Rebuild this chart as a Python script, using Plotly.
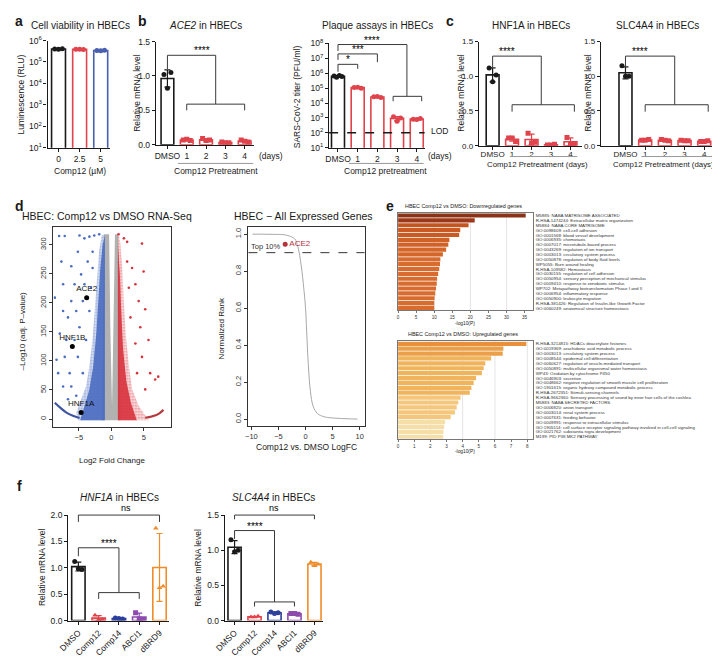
import numpy as np
import plotly.graph_objects as go

# the page puts the plot 8 px in from the top-left corner, so the figure is drawn a bit smaller
OX, OY = 8, 8
FW, FH = 712, 650
FONT = "Liberation Sans"
INK = "#1a1a1a"
BRK = "#3a3a3a"
RED = "#e0434b"
BLUE = "#4a5fae"
NAVY = "#2c3f9c"
PURPLE = "#8e4bae"
ORANGE = "#f08c2a"

# ---------------- data ----------------
# a: cell viability
via_doses = ["0", "2.5", "5"]
via_rlu = [[4.0e5, 4.1e5, 3.9e5], [3.9e5, 3.8e5, 3.95e5], [3.4e5, 3.5e5, 3.3e5]]

# b: ACE2 expression and plaque assay
day_labels = ["DMSO", "1", "2", "3", "4"]
ace2_rel = [[1.02, 1.05, 0.82], [0.07, 0.06, 0.08], [0.09, 0.07, 0.06],
            [0.04, 0.03, 0.03], [0.07, 0.04, 0.05]]
plaque_pfu = [[6.5e5, 5.5e5, 7.0e5, 6.0e5], [1.1e5, 1.0e5, 1.15e5], [2.6e4, 2.4e4, 2.7e4],
              [1.2e3, 1.0e3, 6.0e2], [8.0e2, 9.0e2, 7.8e2]]
lod_pfu = 100

# c: HNF1A / SLC4A4 after Comp12 pretreatment
hnf1a_rel = [[1.12, 1.02, 0.92], [0.11, 0.06, 0.11], [0.18, 0.05, 0.04],
             [0.01, 0.02, 0.01], [0.12, 0.03, 0.02]]
slc4a4_rel = [[1.15, 1.00, 1.00], [0.08, 0.09, 0.08], [0.09, 0.07, 0.08],
              [0.08, 0.07, 0.07], [0.06, 0.07, 0.06]]

# d: volcano (dense clouds as outlines, sparse genes as points)
grey_cloud_x = [-1.1, -0.35, -0.15, 0.1, 0.3, 0.55, 1.05, 1.4, 1.1, -1.1, -1.5]
grey_cloud_y = [318, 318, 150, 22, 150, 318, 318, -2, -2, -2, -2]
blue_outer_x = [-1.0, -1.5, -1.9, -2.3, -2.6, -2.9, -3.4, -3.9, -4.65, -5.4, -5.1, -1.0]
blue_outer_y = [318, 316, 288, 232, 175, 136, 90, 56, 34, 11, -2, -2]
blue_inner_x = [-1.0, -1.35, -1.7, -2.0, -2.3, -2.8, -3.4, -4.2, -4.8, -1.0]
blue_inner_y = [316, 300, 260, 205, 150, 90, 50, 20, -2, -2]
red_outer_x = [1.0, 1.16, 1.4, 1.67, 1.9, 2.2, 2.7, 3.2, 4.2, 5.7, 1.0]
red_outer_y = [318, 316, 300, 260, 203, 147, 90, 51, 22.6, -2, -2]
red_inner_x = [1.0, 1.3, 1.5, 1.8, 2.3, 3.0, 3.9, 1.0]
red_inner_y = [300, 250, 190, 120, 65, 28, -2, -2]
blue_arc_x = [-8.7, -7.9, -6.9, -5.9, -4.9]
blue_arc_y = [28, 20, 11, 5.6, 1.7]
red_arc_x = [5.2, 6.2, 7.2, 8.0]
red_arc_y = [2.3, 4.5, 8.5, 15.8]
blue_pts_x = [-8.03, -7.17, -4.9, -4.14, -3.38, -2.63, -1.87, -7.68, -6.16, -8.69, -7.42, -6.67,
              -5.4, -4.9, -7.93, -8.43, -7.17, -6.41, -8.18, -5.66, -4.65, -3.64, -2.88, -4.39,
              -5.66, -6.92, -3.89, -5.15, -6.16, -7.42, -4.39, -3.13, -2.88, -6.16, -4.14, -5.15,
              -3.38, -7.42, -6.67, -5.4]
blue_pts_y = [315, 315, 316, 311, 314, 316, 318, 271, 263, 209, 186, 175,
              186, 158, 147, 102, 107, 79, 79, 232, 249, 271, 288, 203,
              136, 136, 136, 107, 56, 56, 79, 226, 260, 203, 232, 288,
              186, 232, 34, 40]
red_pts_x = [1.1, 1.92, 2.42, 4.7, 3.18, 4.19, 5.2, 4.44, 3.69, 5.7, 5.96, 6.72, 4.7, 3.69,
             2.93, 5.2, 3.94, 2.68, 2.42, 7.2, 4.95]
red_pts_y = [318, 311, 305, 302, 260, 203, 189, 158, 232, 136, 79, 68, 107, 130,
             175, 51, 79, 226, 271, 73, 254]
marked_genes = ["ACE2", "HNF1B", "HNF1A"]
marked_lfc = [-3.8, -6.0, -4.65]
marked_p = [209, 125, 11.3]

# d: rank plot
rank_lfc = [-9.8, -8, -6, -4, -3, -2, -1.4, -0.8, -0.3, 0.0, 0.2, 0.5, 0.9, 1.4, 2.2, 3.5, 6, 9.6]
rank_norm = [1.0, 1.0, 0.999, 0.997, 0.99, 0.975, 0.93, 0.83, 0.7, 0.6, 0.48, 0.3, 0.15,
             0.07, 0.03, 0.012, 0.004, 0.0]
ace2_rank = (-3.76, 0.945)
top_cut = 0.9

# e: enrichment
down_terms = [
    "M5885: NABA MATRISOME ASSOCIATED",
    "R-HSA-1474244: Extracellular matrix organization",
    "M5884: NABA CORE MATRISOME",
    "GO:0098609: cell-cell adhesion",
    "GO:0001568: blood vessel development",
    "GO:0006935: chemotaxis",
    "GO:0007017: microtubule-based process",
    "GO:0043269: regulation of ion transport",
    "GO:0003013: circulatory system process",
    "GO:0050878: regulation of body fluid levels",
    "WP5055: Burn wound healing",
    "R-HSA-109582: Hemostasis",
    "GO:0030155: regulation of cell adhesion",
    "GO:0050954: sensory perception of mechanical stimulus",
    "GO:0009410: response to xenobiotic stimulus",
    "WP702: Metapathway biotransformation Phase I and II",
    "GO:0006954: inflammatory response",
    "GO:0050900: leukocyte migration",
    "R-HSA-381426: Regulation of Insulin-like Growth Factor",
    "GO:0060249: anatomical structure homeostasis",
]
down_logp = [35.3, 21.2, 19.5, 17.2, 16.9, 14.2, 13.9, 13.3, 12.4, 11.7,
             11.6, 11.4, 11.1, 10.8, 10.7, 10.5, 10.3, 10.1, 10.0, 10.0]
up_terms = [
    "R-HSA-3214815: HDACs deacetylate histones",
    "GO:0019369: arachidonic acid metabolic process",
    "GO:0003013: circulatory system process",
    "GO:0008544: epidermal cell differentiation",
    "GO:0060627: regulation of vesicle-mediated transport",
    "GO:0050891: multicellular organismal water homeostasis",
    "WP43: Oxidation by cytochrome P450",
    "GO:0046903: secretion",
    "GO:0048662: negative regulation of smooth muscle cell proliferation",
    "GO:1901615: organic hydroxy compound metabolic process",
    "R-HSA-2672351: Stimuli-sensing channels",
    "R-HSA-9662360: Sensory processing of sound by inner hair cells of the cochlea",
    "M5883: NABA SECRETED FACTORS",
    "GO:0006820: anion transport",
    "GO:0003014: renal system process",
    "GO:0007631: feeding behavior",
    "GO:0009991: response to extracellular stimulus",
    "GO:1905114: cell surface receptor signaling pathway involved in cell-cell signaling",
    "GO:0021762: substantia nigra development",
    "M199: PID P38 MK2 PATHWAY",
]
up_logp = [7.94, 6.52, 6.48, 5.76, 5.4, 5.3, 5.19, 4.83, 4.68, 4.54,
           4.44, 3.87, 3.73, 3.63, 3.52, 3.26, 2.91, 2.85, 2.81, 2.79]
down_colors = ["#8a3317", "#9c3819", "#c4551f", "#c95a22", "#c95a22", "#d06228", "#d06228",
               "#d4662a", "#d4662a"] + ["#d86c2f"] * 11
up_colors = ["#e8913a", "#eb9f48", "#eb9f48"] + ["#f0b45c"] * 8 + ["#f4c77c"] * 5 + ["#f6dea8"] * 4

# f: inhibitors
f_groups = ["DMSO", "Comp12", "Comp14", "ABCI1", "dBRD9"]
f_hnf1a_rel = [[1.12, 0.97, 0.98], [0.10, 0.02, 0.02], [0.05, 0.03, 0.04],
               [0.15, 0.02, 0.03], [1.75, 0.65, 0.62]]
f_slc4a4_rel = [[1.15, 1.00, 0.98], [0.05, 0.06, 0.05], [0.12, 0.11, 0.10],
                [0.10, 0.09, 0.10], [0.83, 0.80, 0.78]]

# ---------------- layout helpers ----------------
fig = go.Figure()
PANELS = {}
shapes, annotations = [], []


def fx(px):
    return (px - OX) / FW


def fy(py):
    return 1 - (py - OY) / FH


def panel(name, xpx, ypx, xr, yr, log=False):
    k = len(PANELS) + 1
    PANELS[name] = dict(k=k, xpx=xpx, ypx=ypx, xr=xr, yr=yr, log=log,
                        xa="x" if k == 1 else f"x{k}", ya="y" if k == 1 else f"y{k}")
    return PANELS[name]


def to_px(name, x, y):
    p = PANELS[name]
    a, b = p["xpx"]
    xp = a + (x - p["xr"][0]) / (p["xr"][1] - p["xr"][0]) * (b - a)
    yv = np.log10(y) if p["log"] else y
    top, bot = p["ypx"]
    yp = bot - (yv - p["yr"][0]) / (p["yr"][1] - p["yr"][0]) * (bot - top)
    return xp, yp


def to_paper(name, x, y):
    xp, yp = to_px(name, x, y)
    return fx(xp), fy(yp)


def text(x, y, s, size=9, color=INK, xanchor="center", yanchor="middle", angle=0):
    annotations.append(dict(x=fx(x), y=fy(y), xref="paper", yref="paper", text=s,
                            showarrow=False, font=dict(family=FONT, size=size, color=color),
                            xanchor=xanchor, yanchor=yanchor, textangle=angle))


def bracket(name, x0, x1, y, yl, yr, label=None, size=10):
    pts = [to_paper(name, x0, yl), to_paper(name, x0, y), to_paper(name, x1, y), to_paper(name, x1, yr)]
    path = "M " + " L ".join(f"{a:.5f},{b:.5f}" for a, b in pts)
    shapes.append(dict(type="path", xref="paper", yref="paper", path=path,
                       line=dict(color=BRK, width=1)))
    if label:
        mx = (pts[1][0] + pts[2][0]) / 2
        annotations.append(dict(x=mx, y=pts[1][1], xref="paper", yref="paper", text=label,
                                showarrow=False, yanchor="bottom", yshift=-3 if "*" in label else 0,
                                font=dict(family=FONT, size=size, color="#000000")))


def underline(name, x0, x1, ypx):
    a = fx(to_px(name, x0, 1)[0])
    b = fx(to_px(name, x1, 1)[0])
    shapes.append(dict(type="line", xref="paper", yref="paper", x0=a, x1=b,
                       y0=fy(ypx), y1=fy(ypx), line=dict(color="#999999", width=1)))


def gp_axes(p, cats, yticks, yticktext=None, angle=0, fmt=".1f", fs=8.5, standoff=0):
    k = p["k"]
    xs = "xaxis" if k == 1 else f"xaxis{k}"
    ys = "yaxis" if k == 1 else f"yaxis{k}"
    common = dict(showline=True, linecolor=INK, linewidth=1.2, ticks="outside", ticklen=3,
                  tickwidth=1.2, tickcolor=INK, showgrid=False, zeroline=False,
                  tickfont=dict(family=FONT, size=fs, color=INK))
    ya = dict(domain=[fy(p["ypx"][1]), fy(p["ypx"][0])], range=p["yr"], anchor=p["xa"],
              tickvals=yticks, **common)
    if p["log"]:
        ya.update(type="log", ticktext=yticktext)
    else:
        ya.update(tickformat=fmt)
    fig.update_layout(**{
        xs: dict(domain=[fx(p["xpx"][0]), fx(p["xpx"][1])], range=p["xr"], anchor=p["ya"],
                 tickvals=list(range(len(cats))), ticktext=cats, tickangle=angle,
                 ticklabelstandoff=standoff, **common),
        ys: ya,
    })


def bars(name, groups, colors, symbols, width=0.66):
    p = PANELS[name]
    jit = {3: [-0.18, 0.18, 0.0], 4: [-0.2, -0.07, 0.07, 0.2]}
    for i, vals in enumerate(groups):
        v = np.array(vals, float)
        c = colors[i]
        fig.add_trace(go.Bar(x=[i], y=[v.mean()], width=width, xaxis=p["xa"], yaxis=p["ya"],
                             marker=dict(color="white", line=dict(color=c, width=1.6)),
                             error_y=dict(type="data", array=[v.std(ddof=1)], color=c,
                                          thickness=1.2, width=3),
                             hoverinfo="skip"))
        fig.add_trace(go.Scatter(x=[i + o for o in jit[len(v)]], y=v, mode="markers",
                                 xaxis=p["xa"], yaxis=p["ya"], hoverinfo="skip",
                                 marker=dict(color=c, size=5, symbol=symbols[i])))


def r_axes(p, xticks, yticks, yfmt):
    k = p["k"]
    common = dict(showline=True, mirror=True, linecolor="#333333", linewidth=1, ticks="outside",
                  ticklen=3, tickcolor="#333333", showgrid=False, zeroline=False,
                  tickfont=dict(family=FONT, size=7.5, color="#333333"))
    fig.update_layout(**{
        f"xaxis{k}": dict(domain=[fx(p["xpx"][0]), fx(p["xpx"][1])], range=p["xr"], anchor=p["ya"],
                          tickvals=xticks, **common),
        f"yaxis{k}": dict(domain=[fy(p["ypx"][1]), fy(p["ypx"][0])], range=p["yr"],
                          anchor=p["xa"], tickvals=yticks, tickformat=yfmt, tickangle=-90, **common),
    })


def enrich_axes(p, terms, xticks, xmax):
    k = p["k"]
    fig.update_layout(**{
        f"xaxis{k}": dict(domain=[fx(p["xpx"][0]), fx(p["xpx"][1])], range=[0, xmax], anchor=p["ya"],
                          tickvals=xticks, showline=True, mirror=True, linecolor="#777777",
                          linewidth=0.8, ticks="outside", ticklen=2, tickcolor="#777777",
                          showgrid=False, zeroline=False,
                          tickfont=dict(family=FONT, size=4.6, color="#333333")),
        f"yaxis{k}": dict(domain=[fy(p["ypx"][1]), fy(p["ypx"][0])], range=p["yr"],
                          anchor=p["xa"], side="right", tickvals=list(range(len(terms))),
                          ticktext=terms, ticks="", ticklabelstandoff=1,
                          showline=True, mirror=True, linecolor="#777777", linewidth=0.8,
                          showgrid=False, zeroline=False,
                          tickfont=dict(family=FONT, size=4.4, color="#333333")),
    })


# ---------------- a ----------------
pa = panel("a", (37, 100), (35, 144), [-0.52, 2.42], [1, 6], log=True)
gp_axes(pa, via_doses, [10 ** e for e in range(1, 7)], [f"10<sup>{e}</sup>" for e in range(1, 7)])
bars("a", via_rlu, [INK, RED, BLUE], ["circle"] * 3)
text(70, 20, "Cell viability in HBECs", 10)
text(10, 90, "Luminescence (RLU)", 8.5, angle=-90)
text(70, 168, "Comp12 (\u00b5M)", 8.5)

# ---------------- b ----------------
pb = panel("ace2", (147, 247), (36, 141), [-0.6, 4.5], [0, 1.5])
gp_axes(pb, day_labels, [0, 0.5, 1.0, 1.5])
bars("ace2", ace2_rel, [INK] + [RED] * 4, ["circle"] + ["square"] * 4)
text(197, 20, "<i>ACE2</i> in HBECs", 10)
text(127, 88, "Relative mRNA level", 8.5, angle=-90)
text(264, 152, "(days)", 8.5)
text(208, 168, "Comp12 Pretreatment", 8.5)
underline("ace2", 0.55, 4.45, 160)
bracket("ace2", 0, 2.5, 1.3, 1.1, 0.59, "****", 10)
bracket("ace2", 1, 4, 0.59, 0.5, 0.5)

pp = panel("plaque", (323, 420), (38, 144), [-0.45, 4.4], [1, 8], log=True)
gp_axes(pp, day_labels, [10 ** e for e in range(1, 9)], [f"10<sup>{e}</sup>" for e in range(1, 9)])
lod_a, lod_y = to_paper("plaque", -0.45, lod_pfu)
lod_b, _ = to_paper("plaque", 4.4, lod_pfu)
shapes.append(dict(type="line", xref="paper", yref="paper", x0=lod_a, x1=lod_b, y0=lod_y, y1=lod_y,
                   line=dict(color=INK, width=1.6, dash="dash")))
bars("plaque", plaque_pfu, [INK] + [RED] * 4, ["circle"] + ["circle"] * 4)
text(372, 20, "Plaque assays in HBECs", 10)
text(290, 92, "SARS-CoV-2 titer (PFU/ml)", 8.5, angle=-90)
text(424, 127, "LOD", 8.5, xanchor="left")
text(436, 152, "(days)", 8.5)
text(380, 168, "Comp12 pretreatment", 8.5)
underline("plaque", 0.55, 4.35, 160)
bracket("plaque", 0, 1, 10 ** 6.6, 10 ** 6.1, 10 ** 6.3, "*", 10)
bracket("plaque", 0, 2, 10 ** 7.3, 10 ** 6.9, 10 ** 6.75, "***", 10)
bracket("plaque", 0, 3.5, 10 ** 7.93, 10 ** 7.5, 10 ** 4.45, "****", 10)
bracket("plaque", 2.8, 4.25, 10 ** 4.45, 10 ** 4.12, 10 ** 4.12)

# ---------------- c ----------------
pc1 = panel("hnf1a", (475, 580), (36, 142), [-0.71, 4.6], [0, 1.5])
gp_axes(pc1, day_labels, [0, 0.5, 1.0, 1.5], fs=8, standoff=-2)
bars("hnf1a", hnf1a_rel, [INK] + [RED] * 4, ["circle"] + ["square"] * 4)
text(528, 20, "HNF1A in HBECs", 10)
text(457, 88, "Relative mRNA level", 8.5, angle=-90)
text(535, 161, "Comp12 Pretreatment (days)", 7.8)
underline("hnf1a", 0.9, 4.35, 153)
bracket("hnf1a", 0, 2.5, 1.29, 1.13, 0.59, "****", 10)
bracket("hnf1a", 1, 4.2, 0.59, 0.49, 0.49)

pc2 = panel("slc4a4", (599, 717), (36, 142), [-1.25, 4.65], [0, 1.5])
gp_axes(pc2, day_labels, [0, 0.5, 1.0, 1.5], fs=8, standoff=-2)
bars("slc4a4", slc4a4_rel, [INK] + [RED] * 4, ["circle"] + ["square"] * 4)
text(657, 20, "SLC4A4 in HBECs", 10)
text(586, 88, "Relative mRNA level", 8.5, angle=-90)
text(663, 161, "Comp12 Pretreatment (days)", 7.8)
underline("slc4a4", 0.8, 4.4, 153)
bracket("slc4a4", 0, 2.5, 1.29, 1.13, 0.59, "****", 10)
bracket("slc4a4", 1, 4.2, 0.59, 0.49, 0.49)

# ---------------- d: volcano ----------------
pv = panel("volcano", (43, 162), (225, 428), [-8.9, 9.1], [-13.5, 330])
r_axes(pv, [-5, 0, 5], [0, 50, 100, 150, 200, 250, 300], "d")
vx, vy = pv["xa"], pv["ya"]
# (x, y, colour, pattern solidity or None for a solid fill)
clouds = [(grey_cloud_x, grey_cloud_y, "#a9a9a9", None),
          (blue_outer_x, blue_outer_y, "#4a6cc0", 0.7),
          (blue_inner_x, blue_inner_y, "#4a6cc0", None),
          (red_outer_x, red_outer_y, "#d7323c", 0.65),
          (red_inner_x, red_inner_y, "#d7323c", None)]
for xs, ys, col, sol in clouds:
    if sol is None:
        fig.add_trace(go.Scatter(x=xs, y=ys, fill="toself", fillcolor=col, mode="lines",
                                 line=dict(width=0), opacity=0.9,
                                 xaxis=vx, yaxis=vy, hoverinfo="skip"))
    else:
        fig.add_trace(go.Scatter(x=xs, y=ys, fill="toself", mode="lines", line=dict(width=0),
                                 fillpattern=dict(shape=".", fgcolor=col, bgcolor="rgba(255,255,255,0)",
                                                  size=3, solidity=sol),
                                 xaxis=vx, yaxis=vy, hoverinfo="skip"))
fig.add_trace(go.Scatter(x=blue_arc_x, y=blue_arc_y, mode="lines",
                         line=dict(color="#3f55a0", width=2.2, shape="spline"),
                         xaxis=vx, yaxis=vy, hoverinfo="skip"))
fig.add_trace(go.Scatter(x=red_arc_x, y=red_arc_y, mode="lines",
                         line=dict(color="#b53a3f", width=2.2, shape="spline"),
                         xaxis=vx, yaxis=vy, hoverinfo="skip"))
fig.add_trace(go.Scatter(x=blue_pts_x, y=blue_pts_y, mode="markers", marker=dict(color="#4a6cc0", size=2.6),
                         xaxis=vx, yaxis=vy, hoverinfo="skip"))
fig.add_trace(go.Scatter(x=red_pts_x, y=red_pts_y, mode="markers", marker=dict(color="#d7323c", size=2.6),
                         xaxis=vx, yaxis=vy, hoverinfo="skip"))
fig.add_trace(go.Scatter(x=marked_lfc, y=marked_p, mode="markers+text", text=marked_genes,
                         textposition="top center", textfont=dict(family=FONT, size=8, color="#111111"),
                         marker=dict(color="black", size=5), xaxis=vx, yaxis=vy, hoverinfo="skip"))
text(97, 213, "HBEC: Comp12 vs DMSO RNA-Seq", 10.5)
text(12, 330, "\u2013Log10 (adj. P\u2013value)", 8, angle=-90)
text(102, 462, "Log2 Fold Change", 8)

# ---------------- d: rank ----------------
pr = panel("rank", (241, 359), (225, 427), [-10.55, 10.9], [-0.037, 1.037])
r_axes(pr, [-10, -5, 0, 5, 10], [0, 0.2, 0.4, 0.6, 0.8, 1.0], ".1f")
fig.add_trace(go.Scatter(x=rank_lfc, y=rank_norm, mode="lines",
                         line=dict(color="#a8a8a8", width=1, shape="spline"),
                         xaxis=pr["xa"], yaxis=pr["ya"], hoverinfo="skip"))
c0, cy = to_paper("rank", -10.55, top_cut)
c1, _ = to_paper("rank", 10.9, top_cut)
shapes.append(dict(type="line", xref="paper", yref="paper", x0=c0, x1=c1, y0=cy, y1=cy,
                   line=dict(color="#333333", width=1, dash="dash")))
fig.add_trace(go.Scatter(x=[ace2_rank[0]], y=[ace2_rank[1]], mode="markers+text", text=["ACE2"],
                         textposition="middle right", textfont=dict(family=FONT, size=8, color="#b5323a"),
                         marker=dict(color="#b5323a", size=5), xaxis=pr["xa"], yaxis=pr["ya"],
                         hoverinfo="skip"))
tx, ty = to_paper("rank", -10.4, top_cut)
annotations.append(dict(x=tx, y=ty, xref="paper", yref="paper", text="Top 10%", showarrow=False,
                        xanchor="left", yanchor="bottom", font=dict(family=FONT, size=7.5, color="#333333")))
text(297, 213, "HBEC \u2212 All Expressed Genes", 10.5)
text(214, 328, "Normalized Rank", 8, angle=-90)
text(300, 448, "Comp12 vs. DMSO LogFC", 8.5)

# ---------------- e ----------------
pe1 = panel("down", (393, 530), (210.5, 309.5), [0, 37.3], [19.5, -0.5])
enrich_axes(pe1, down_terms, list(range(0, 36, 5)), 37.3)
for g in [10, 20, 30]:
    shapes.append(dict(type="line", xref=pe1["xa"], yref="paper", x0=g, x1=g,
                       y0=fy(309.5), y1=fy(210.5), line=dict(color="#dddddd", width=0.8), layer="below"))
fig.add_trace(go.Bar(x=down_logp, y=list(range(20)), orientation="h", width=0.86,
                     marker=dict(color=down_colors, line=dict(width=0)),
                     xaxis=pe1["xa"], yaxis=pe1["ya"], hoverinfo="skip"))
text(459, 203, "HBEC Comp12 vs DMSO: Downregulated genes", 5.4)
text(461, 323, "-log10(P)", 4.8)

pe2 = panel("up", (393, 530), (341, 440.5), [0, 8.35], [19.5, -0.5])
enrich_axes(pe2, up_terms, list(range(0, 9)), 8.35)
for g in [2, 4, 6, 8]:
    shapes.append(dict(type="line", xref=pe2["xa"], yref="paper", x0=g, x1=g,
                       y0=fy(440.5), y1=fy(341), line=dict(color="#dddddd", width=0.8), layer="below"))
fig.add_trace(go.Bar(x=up_logp, y=list(range(20)), orientation="h", width=0.86,
                     marker=dict(color=up_colors, line=dict(width=0)),
                     xaxis=pe2["xa"], yaxis=pe2["ya"], hoverinfo="skip"))
text(459, 333, "HBEC Comp12 vs DMSO: Upregulated genes", 5.4)
text(461, 453, "-log10(P)", 4.8)

# ---------------- f ----------------
f_colors = [INK, RED, NAVY, PURPLE, ORANGE]
f_symbols = ["circle", "triangle-up", "circle", "square", "triangle-up"]
pf1 = panel("f_hnf1a", (58, 160), (517.7, 625), [-0.5, 4.45], [0, 2.0])
gp_axes(pf1, f_groups, [0, 0.5, 1.0, 1.5, 2.0], angle=-45)
bars("f_hnf1a", f_hnf1a_rel, f_colors, f_symbols)
text(110, 500, "<i>HNF1A</i> in HBECs", 10)
text(32, 571, "Relative mRNA level", 8.5, angle=-90)
bracket("f_hnf1a", 0, 4, 2.0, 1.87, 1.87, "ns", 9)
bracket("f_hnf1a", 0, 2, 1.38, 1.22, 0.53, "****", 10)
bracket("f_hnf1a", 1, 3, 0.53, 0.41, 0.41)

pf2 = panel("f_slc4a4", (217, 317), (517.7, 625), [-0.49, 4.44], [0, 1.5])
gp_axes(pf2, f_groups, [0, 0.5, 1.0, 1.5], angle=-45)
bars("f_slc4a4", f_slc4a4_rel, f_colors, f_symbols)
text(267, 500, "<i>SLC4A4</i> in HBECs", 10)
text(190, 571, "Relative mRNA level", 8.5, angle=-90)
bracket("f_slc4a4", 0, 4, 1.5, 1.44, 1.44, "ns", 9)
bracket("f_slc4a4", 0, 2, 1.28, 1.16, 0.265, "****", 10)
bracket("f_slc4a4", 1, 3, 0.265, 0.2, 0.2)

# panel letters
for lab, x, y in [("a", 8, 15), ("b", 133, 15), ("c", 446, 15), ("d", 8, 203), ("e", 385, 203), ("f", 9, 488)]:
    text(x, y, f"<b>{lab}</b>", 14)

fig.update_layout(width=FW, height=FH, margin=dict(l=0, r=0, t=0, b=0), showlegend=False,
                  barmode="overlay", paper_bgcolor="white", plot_bgcolor="white",
                  font=dict(family=FONT, color=INK), shapes=shapes, annotations=annotations)
fig.write_html("out.html")
